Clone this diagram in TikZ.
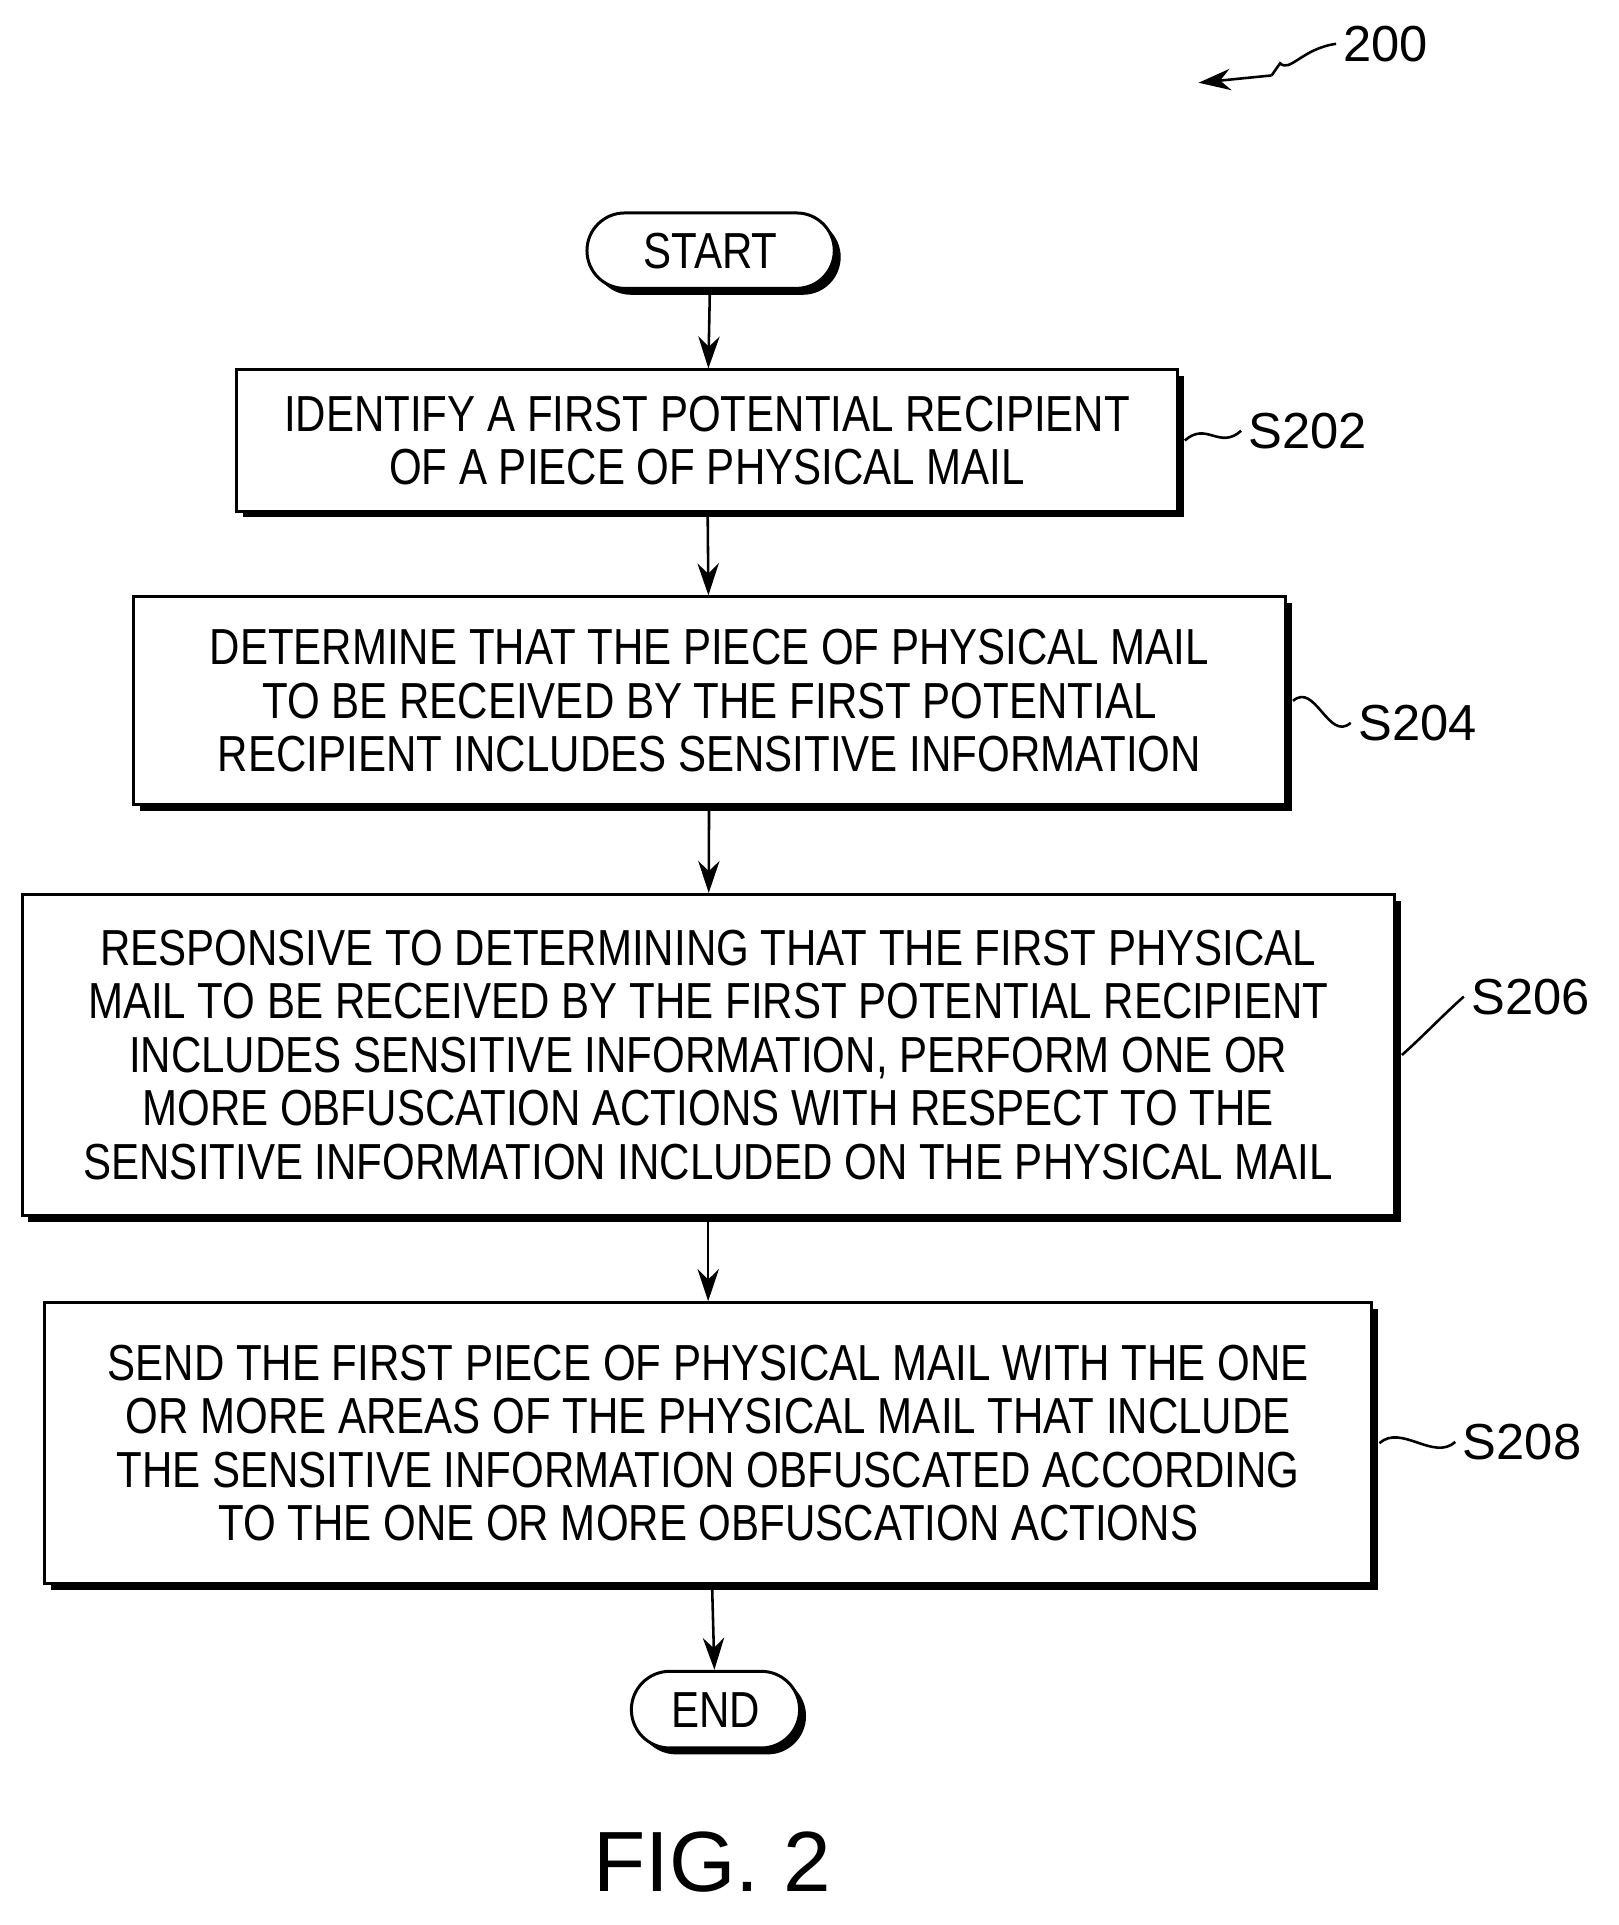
\documentclass[tikz,border=0pt]{standalone}
\usepackage{fontspec}
\setmainfont{Liberation Sans}
\newfontfamily\boxfont[FakeStretch=0.83]{Liberation Sans}
\usetikzlibrary{arrows.meta,shapes.misc,shadows}

\tikzset{
    stepbox/.style={draw, line width=1.4pt, fill=white, align=center,
        font=\boxfont\fontsize{23.7}{25}\selectfont,
        drop shadow={shadow xshift=3pt, shadow yshift=-3pt, opacity=1, fill=black}},
    term/.style={stepbox, rounded rectangle},
    flow/.style={line width=1.2pt, -{Stealth[length=15pt,width=10pt]}},
    tag/.style={font=\fontsize{23.7}{25}\selectfont, anchor=west},
    wave/.style={line width=1.2pt}
}

\begin{document}
\begin{tikzpicture}[x=0.02cm, y=-0.02cm]
    \useasboundingbox (0,0) rectangle (1330,1582);
    % ref numeral
    \node [tag] (n200) at (1098,36) {200};
    \coordinate (w1) at (1052,52);
    \coordinate (w2) at (1045,62);
    \coordinate (tip) at (985,68);
    \draw [wave] (n200.west) .. controls (1070,40) and (1060,60) .. (w1) -- (w2);
    \draw [flow] (w2) -- (tip);
    % steps
    \node [term, minimum width=4.3cm, minimum height=1.24cm] (start) at (584,206) {START};
    \node [stepbox, minimum width=15.46cm, minimum height=2.32cm] (s202) at (581,362)
        {IDENTIFY A FIRST POTENTIAL RECIPIENT\\OF A PIECE OF PHYSICAL MAIL};
    \node [stepbox, minimum width=18.94cm, minimum height=3.42cm] (s204) at (583,576)
        {DETERMINE THAT THE PIECE OF PHYSICAL MAIL\\TO BE RECEIVED BY THE FIRST POTENTIAL\\RECIPIENT INCLUDES SENSITIVE INFORMATION};
    \node [stepbox, minimum width=22.56cm, minimum height=5.28cm] (s206) at (582,867)
        {RESPONSIVE TO DETERMINING THAT THE FIRST PHYSICAL\\MAIL TO BE RECEIVED BY THE FIRST POTENTIAL RECIPIENT\\INCLUDES SENSITIVE INFORMATION, PERFORM ONE OR\\MORE OBFUSCATION ACTIONS WITH RESPECT TO THE\\SENSITIVE INFORMATION INCLUDED ON THE PHYSICAL MAIL};
    \node [stepbox, minimum width=21.82cm, minimum height=4.62cm] (s208) at (582,1186)
        {SEND THE FIRST PIECE OF PHYSICAL MAIL WITH THE ONE\\OR MORE AREAS OF THE PHYSICAL MAIL THAT INCLUDE\\THE SENSITIVE INFORMATION OBFUSCATED ACCORDING\\TO THE ONE OR MORE OBFUSCATION ACTIONS};
    \node [term, minimum width=3.0cm, minimum height=1.26cm] (end) at (588,1405) {END};
    % step tags
    \node [tag] (t202) at (1020,354) {S202};
    \node [tag] (t204) at (1110,594) {S204};
    \node [tag] (t206) at (1203,819) {S206};
    \node [tag] (t208) at (1196,1185) {S208};
    \foreach \b/\t in {s202/t202, s204/t204, s206/t206, s208/t208}
        \draw [wave] ([xshift=0.1cm]\b.east) .. controls +(18,-16) and +(-18,16) .. (\t.west);
    % flow
    \draw [flow] (start) -- (s202);
    \draw [flow] (s202) -- (s204);
    \draw [flow] (s204) -- (s206);
    \draw [flow] (s206) -- (s208);
    \draw [flow] (s208) -- (end);
    \node [font=\fontsize{40}{44}\selectfont] (fig) at (585,1530) {FIG. 2};
\end{tikzpicture}
\end{document}
